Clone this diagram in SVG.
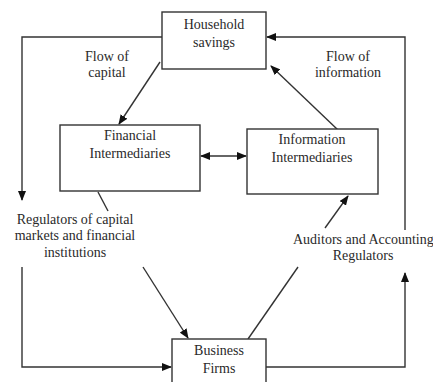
<svg xmlns="http://www.w3.org/2000/svg" width="433" height="382" viewBox="0 0 433 382">
<style>
text{font-family:"Liberation Serif","Times New Roman",serif;font-size:14px;fill:#2a2a2a;text-anchor:middle}
.box{fill:#fff;stroke:#333;stroke-width:1.4}
.ln{fill:none;stroke:#333;stroke-width:1.4}
</style>
<defs>
<marker id="ah" markerWidth="10" markerHeight="8" refX="9" refY="4" orient="auto-start-reverse" markerUnits="userSpaceOnUse">
<path d="M0,0 L10,4 L0,8 Z" fill="#111"/>
</marker>
</defs>
<rect width="433" height="382" fill="#fff"/>
<g id="connectors">
<path class="ln" d="M162,37 H22 V200" marker-end="url(#ah)"/>
<path class="ln" d="M22,267 V367 H171" marker-end="url(#ah)"/>
<path class="ln" d="M266,367 H405 V273" marker-end="url(#ah)"/>
<path class="ln" d="M405,230 V37 H267" marker-end="url(#ah)"/>
<path class="ln" d="M160,62 L119,124" marker-end="url(#ah)"/>
<path class="ln" d="M338,130 L271,66" marker-end="url(#ah)"/>
<path class="ln" d="M201,156 H246" marker-start="url(#ah)" marker-end="url(#ah)"/>
<path class="ln" d="M98,192 L108,211"/>
<path class="ln" d="M143,267 L188,338" marker-end="url(#ah)"/>
<path class="ln" d="M248,339 L298,267"/>
<path class="ln" d="M325,228 L348,196" marker-end="url(#ah)"/>
</g>
<g id="household">
<rect class="box" x="162" y="12" width="104" height="57"/>
<text x="214" y="29">Household</text>
<text x="214" y="47">savings</text>
</g>
<g id="financial">
<rect class="box" x="60" y="125" width="140" height="66"/>
<text x="130" y="140">Financial</text>
<text x="130" y="158">Intermediaries</text>
</g>
<g id="information">
<rect class="box" x="247" y="129" width="131" height="65"/>
<text x="312" y="144">Information</text>
<text x="312" y="162">Intermediaries</text>
</g>
<g id="business">
<rect class="box" x="172" y="339" width="94" height="50"/>
<text x="219" y="355">Business</text>
<text x="219" y="373">Firms</text>
</g>
<g id="labels">
<text x="107" y="61">Flow of</text>
<text x="107" y="77">capital</text>
<text x="348" y="61">Flow of</text>
<text x="348" y="77">information</text>
<text x="75" y="224">Regulators of capital</text>
<text x="75" y="240">markets and financial</text>
<text x="75" y="257">institutions</text>
<text x="293" y="244" style="text-anchor:start">Auditors and Accounting</text>
<text x="363" y="260">Regulators</text>
</g>
</svg>
